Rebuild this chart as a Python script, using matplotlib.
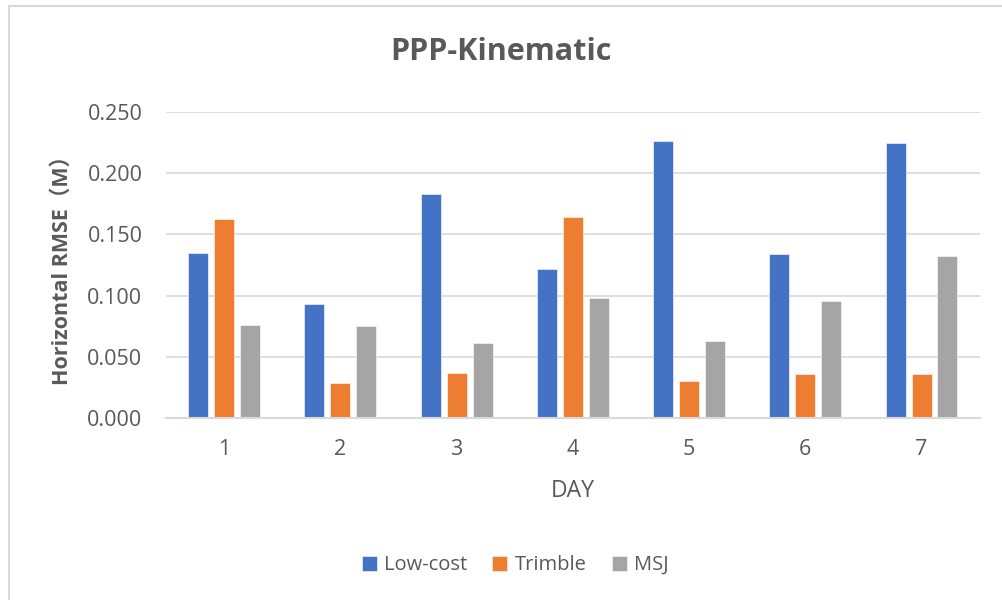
import numpy as np
import matplotlib.pyplot as plt
from matplotlib.lines import Line2D

days = ["1", "2", "3", "4", "5", "6", "7"]
low_cost = [0.135, 0.093, 0.183, 0.122, 0.226, 0.134, 0.225]
trimble = [0.163, 0.029, 0.037, 0.164, 0.030, 0.036, 0.036]
msj = [0.076, 0.075, 0.061, 0.098, 0.063, 0.096, 0.132]
series_names = ["Low-cost", "Trimble", "MSJ"]
colors = ["#4472C4", "#ED7D31", "#A5A5A5"]

txt = "#595959"
plt.rcParams["font.family"] = ["Open Sans", "Noto Sans CJK SC", "DejaVu Sans"]

fig = plt.figure(figsize=(10.02, 6.0), dpi=100)
ax = fig.add_axes([0.1657, 0.3033, 0.812, 0.51])

x = np.arange(len(days))
w = 0.172
step = 0.223
for i, (vals, name, c) in enumerate(zip([low_cost, trimble, msj], series_names, colors)):
    ax.bar(x + (i - 1) * step, vals, width=w, color=c, label=name,
           edgecolor="white", linewidth=0.4, zorder=3)

ax.set_xlim(-0.5, len(days) - 0.5)
ax.set_ylim(0, 0.25)
ax.set_yticks(np.arange(0, 0.2501, 0.05))
ax.set_yticklabels([f"{v:.3f}" for v in np.arange(0, 0.2501, 0.05)])
ax.set_xticks(x)
ax.set_xticklabels(days)
ax.grid(axis="y", color="#D9D9D9", linewidth=1.2, zorder=0)
ax.set_axisbelow(True)
for s in ["top", "right", "left"]:
    ax.spines[s].set_visible(False)
ax.spines["bottom"].set_color("#D9D9D9")
ax.spines["bottom"].set_linewidth(1.5)
ax.spines["bottom"].set_zorder(4)
ax.tick_params(axis="both", length=0, labelsize=15.5, colors=txt)
ax.tick_params(axis="x", pad=15)
ax.tick_params(axis="y", pad=17)

ax.set_xlabel("DAY", fontsize=16.5, color=txt, labelpad=14)
ax.set_ylabel("Horizontal RMSE（M）", fontsize=15.5, color=txt, fontweight="bold", labelpad=10)

fig.text(0.5, 0.913, "PPP-Kinematic", ha="center", va="center",
         fontsize=22, fontweight="bold", color=txt)

handles, labels = ax.get_legend_handles_labels()
fig.legend(handles, labels, loc="center", bbox_to_anchor=(0.514, 0.058), ncol=3,
           frameon=False, fontsize=14.5, handlelength=0.75, handleheight=0.75,
           handletextpad=0.35, columnspacing=1.25, labelcolor=txt)

# outer frame of the chart area
fig.add_artist(Line2D([9 / 1002, 1], [1 - 5.5 / 600, 1 - 5.5 / 600],
                      color="#D9D9D9", linewidth=1.5, transform=fig.transFigure))
fig.add_artist(Line2D([9 / 1002, 9 / 1002], [0, 1 - 5.5 / 600],
                      color="#D9D9D9", linewidth=1.5, transform=fig.transFigure))

fig.savefig("out.png", dpi=100)
